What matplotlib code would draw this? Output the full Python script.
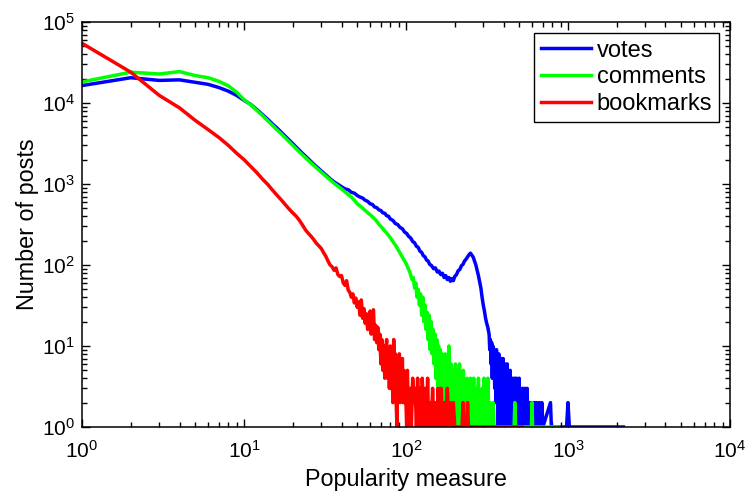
import numpy as np
import matplotlib
matplotlib.use("Agg")
import matplotlib.pyplot as plt
from matplotlib.ticker import LogLocator, NullFormatter

plt.rcParams['font.family'] = ['Liberation Sans', 'DejaVu Sans']

# counts of posts per popularity value
votes_x = [1, 2, 3, 4, 5, 6, 7, 8, 9, 10, 11, 12, 13, 14, 15, 16, 17, 18, 19, 20,
           21, 22, 23, 24, 25, 26, 27, 28, 29, 30, 32, 34, 36, 38,
           40, 42, 44, 46, 48, 50, 52, 54, 56, 58, 60, 62, 64, 66, 68, 70, 72, 74, 76, 78,
           80, 83, 86, 89, 92, 95, 98, 101, 104, 107, 110, 113, 116, 119, 122, 125, 128, 131, 134, 137,
           140, 144, 148, 152, 156, 160, 164, 168, 172, 176, 180, 184, 188, 192, 196, 200, 205, 210, 215, 220,
           225, 230, 235, 240, 245, 250, 255, 260, 265, 270, 275, 280, 285, 290, 295, 300, 305, 310, 315, 320,
           326, 329, 332, 335, 338, 341, 344, 347, 350, 353, 356, 359, 362, 365, 368, 371, 374, 377, 380, 383,
           386, 389, 392, 395, 398, 401, 404, 407, 410, 413, 416, 419, 422, 425, 428, 431, 434, 437, 440, 443,
           446, 449, 452, 455, 458, 461, 464, 467, 470, 473, 476, 479, 482, 485, 488, 491, 494, 497, 500, 503,
           506, 509, 512, 515, 519, 523, 527, 531, 535, 539, 543, 547, 551, 555, 560, 565, 570, 575, 581, 587,
           593, 599, 605, 611, 620, 628, 640, 652, 665, 672, 690, 700, 780, 790, 980, 1000, 1020, 2200]
votes_y = [16400, 20500, 19000, 19300, 18000, 17000, 15500, 14000, 12400, 10800, 9600, 8300, 7200, 6300, 5500, 4900, 4350, 3900, 3500, 3150,
           2850, 2600, 2380, 2200, 2030, 1880, 1750, 1640, 1540, 1450, 1290, 1160, 1060, 990,
           930, 870, 850, 790, 770, 720, 690, 670, 630, 610, 570, 560, 520, 510, 480, 470, 440, 435, 405, 400,
           370, 355, 325, 315, 290, 280, 255, 245, 225, 215, 195, 188, 170, 165, 148, 143, 130, 126, 115, 112,
           102, 98, 90, 92, 82, 84, 76, 79, 70, 74, 66, 70, 63, 68, 64, 72, 76, 85, 88, 98,
           102, 112, 118, 126, 134, 140, 132, 125, 112, 100, 86, 74, 62, 52, 40, 32, 27, 22, 19, 17,
           14, 9, 12, 6, 11, 4, 10, 5, 9, 3, 8, 2, 9, 3, 7, 1, 8, 2, 6, 1,
           7, 2, 5, 1, 7, 2, 5, 1, 6, 1, 4, 2, 6, 1, 5, 1, 4, 2, 5, 1,
           4, 1, 3, 1, 4, 1, 3, 2, 4, 1, 3, 1, 4, 1, 3, 1, 2, 1, 4, 1,
           2, 1, 3, 1, 2, 1, 3, 1, 2, 1, 3, 1, 2, 1, 3, 1, 2, 1, 2, 1,
           2, 1, 2, 1, 2, 1, 2, 1, 2, 1, 2, 1, 2, 1, 1, 2, 1, 1]

comments_x = [1, 2, 3, 4, 5, 6, 7, 8, 9, 10, 11, 12, 13, 14, 15, 16, 17, 18, 19, 20,
              21, 22, 23, 24, 25, 26, 27, 28, 29, 30, 32, 34, 36, 38, 40, 42, 44, 46, 48, 50,
              53, 56, 59, 62, 65, 68, 71, 75, 79, 83, 87, 91, 95, 100, 103, 106, 109, 111, 113, 115,
              117, 119, 121, 123, 125, 127, 129, 131, 133, 135, 137, 139, 141, 143, 145, 147, 149, 151, 153, 155,
              157, 159, 161, 163, 165, 167, 169, 171, 173, 175, 177, 179, 181, 184, 187, 190, 193, 196, 199, 202,
              205, 208, 211, 214, 217, 220, 223, 226, 229, 232, 235, 238, 241, 244, 247, 250, 253, 256, 259, 262,
              265, 268, 271, 274, 277, 280, 283, 287, 291, 295, 299, 303, 307, 311, 315, 320, 325, 330, 335, 345,
              350, 400, 465, 470, 475, 595, 600, 605, 870]
comments_y = [18200, 24000, 22800, 24400, 21800, 20500, 18500, 16300, 13600, 11000, 9500, 8100, 7000, 6050, 5300, 4650, 4150, 3700, 3330, 3000,
              2720, 2480, 2280, 2100, 1950, 1810, 1690, 1580, 1490, 1400, 1250, 1120, 1020, 940, 870, 800, 740, 690, 630, 570,
              520, 470, 430, 395, 360, 320, 290, 255, 225, 195, 170, 145, 125, 105, 92, 80, 66, 70, 52, 60,
              40, 50, 32, 44, 24, 40, 20, 32, 16, 26, 12, 24, 9, 20, 8, 16, 6, 14, 4, 12,
              3, 10, 2, 9, 1, 8, 2, 7, 1, 8, 2, 6, 1, 10, 1, 6, 2, 5, 1, 6,
              1, 5, 2, 6, 1, 4, 1, 5, 2, 3, 1, 4, 1, 3, 1, 4, 1, 3, 2, 4,
              1, 2, 1, 3, 1, 4, 1, 2, 1, 3, 1, 4, 1, 2, 1, 4, 1, 2, 1, 2,
              1, 1, 1, 2, 1, 1, 2, 1, 1]

bookmarks_x = [1, 2, 3, 4, 5, 6, 7, 8, 9, 10, 11, 12, 13, 14, 15, 16, 17, 18, 19, 20,
               21, 22, 23, 24, 25, 26, 27, 28, 29, 30, 31, 32, 33, 34, 35, 36, 37, 38, 39, 40,
               41, 42, 43, 44, 45, 46, 47, 48, 49, 50, 51, 52, 53, 54, 55, 56, 57, 58, 59, 60,
               61, 62, 63, 64, 65, 66, 67, 68, 69, 70, 71, 72, 73, 74, 75, 76, 77, 78, 79, 80,
               81, 82, 83, 84, 85, 86, 87, 88, 89, 90, 91, 92, 93, 94, 95, 96, 97, 98, 99, 100,
               101, 102, 104, 106, 108, 110, 112, 114, 116, 118, 120, 122, 124, 126, 128, 130, 132, 134, 136, 138,
               140, 143, 146, 149, 152, 155, 158, 161, 165, 168, 172, 176, 180, 184, 188, 192, 196, 200, 215, 222,
               225, 228, 237, 240, 243, 300, 400, 520]
bookmarks_y = [54600, 24000, 12400, 8700, 6100, 4700, 3750, 3000, 2400, 2000, 1650, 1380, 1150, 990, 840, 725, 635, 555, 490, 440,
               400, 355, 310, 270, 245, 225, 205, 185, 172, 160, 142, 128, 112, 100, 95, 86, 92, 76, 72, 74,
               60, 56, 64, 49, 46, 40, 44, 34, 39, 30, 35, 24, 37, 22, 29, 19, 25, 16, 22, 27,
               14, 24, 28, 12, 18, 11, 17, 9, 14, 6, 12, 5, 10, 4, 9, 12, 4, 8, 3, 10,
               3, 7, 2, 12, 5, 8, 2, 1, 6, 3, 8, 2, 6, 3, 7, 2, 5, 2, 4, 2,
               1, 5, 1, 3, 1, 4, 2, 3, 1, 4, 1, 3, 1, 4, 2, 1, 3, 1, 4, 1,
               2, 1, 3, 1, 2, 1, 3, 1, 3, 1, 2, 1, 3, 1, 2, 1, 2, 1, 1, 1,
               2, 1, 1, 2, 1, 1, 1, 1]

fig = plt.figure(figsize=(7.46, 4.95), dpi=100)
ax = fig.add_axes([0.1099, 0.1374, 0.8686, 0.8182])

ax.loglog(votes_x, votes_y, color=(0, 0, 1), lw=2.5, label='votes')
ax.loglog(comments_x, comments_y, color=(0, 1, 0), lw=2.5, label='comments')
ax.loglog(bookmarks_x, bookmarks_y, color=(1, 0, 0), lw=2.5, label='bookmarks')

ax.set_xlim(1, 1e4)
ax.set_ylim(1, 1e5)
ax.xaxis.set_major_locator(LogLocator(base=10, numticks=10))
ax.yaxis.set_major_locator(LogLocator(base=10, numticks=10))
ax.xaxis.set_minor_locator(LogLocator(base=10, subs=np.arange(2, 10), numticks=20))
ax.yaxis.set_minor_locator(LogLocator(base=10, subs=np.arange(2, 10), numticks=20))
ax.xaxis.set_minor_formatter(NullFormatter())
ax.yaxis.set_minor_formatter(NullFormatter())

ax.tick_params(which='both', direction='in', top=True, right=True, width=1, colors='black')
ax.tick_params(which='major', length=6, labelsize=15)
ax.tick_params(axis='x', which='major', pad=9)
ax.tick_params(axis='y', which='major', pad=5)
ax.tick_params(which='minor', length=3.5)
for s in ax.spines.values():
    s.set_linewidth(1.1)

ax.set_xlabel('Popularity measure', fontsize=16.8, labelpad=5)
ax.set_ylabel('Number of posts', fontsize=16.8, labelpad=2)

leg = ax.legend(loc='upper right', fontsize=17, frameon=True, fancybox=False,
                edgecolor='black', framealpha=1, borderaxespad=0.45,
                handlelength=2.1, handletextpad=0.25, labelspacing=0.2, borderpad=0.3)
leg.get_frame().set_linewidth(1.0)

fig.savefig('out.png', dpi=100)
